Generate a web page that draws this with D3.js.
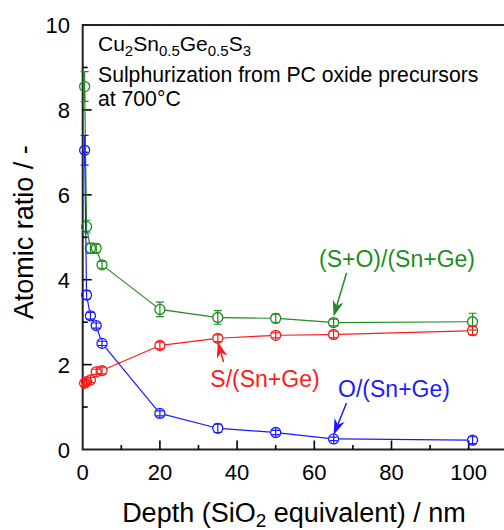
<!DOCTYPE html>
<html>
<head>
<meta charset="utf-8">
<script src="https://cdn.jsdelivr.net/npm/d3@7"></script>
<style>
  html, body { margin: 0; padding: 0; background: #fff; }
  svg { display: block; font-family: "Liberation Sans", Arial, sans-serif; }
</style>
</head>
<body>
<div id="chart"></div>
<script>
// depth profile data
const depth = [0.5, 1, 2, 3.5, 5, 20, 35, 50, 65, 101];
const ratioSO = [8.55, 5.25, 4.74, 4.74, 4.35, 3.30, 3.11, 3.09, 2.99, 3.01];
const errSO = [0.35, 0.15, 0.12, 0.10, 0.08, 0.17, 0.16, 0.10, 0.08, 0.20];
const ratioS = [1.56, 1.60, 1.64, 1.83, 1.86, 2.45, 2.62, 2.69, 2.71, 2.80];
const errS = [0.06, 0.06, 0.06, 0.06, 0.08, 0.08, 0.08, 0.06, 0.08, 0.10];
const ratioO = [7.05, 3.64, 3.15, 2.92, 2.50, 0.85, 0.50, 0.40, 0.25, 0.22];
const errO = [0.35, 0.10, 0.08, 0.06, 0.05, 0.06, 0.10, 0.05, 0.04, 0.08];

const xTicks = [0, 20, 40, 60, 80, 100];
const yTicks = [0, 2, 4, 6, 8, 10];

(() => {
    const W = 504, H = 530;
    const m = { left: 82.7, top: 25, bottom: 449.5 };
    const R = 5;

    const svg = d3.select("#chart").append("svg").attr("width", W).attr("height", H);

    const x = d3.scaleLinear().domain([0, 110]).range([m.left, m.left + 110 * 3.86]);
    const y = d3.scaleLinear().domain([0, 10]).range([m.bottom, m.top]);

    const series = [
        { name: "(S+O)/(Sn+Ge)", vals: ratioSO, err: errSO, color: "#1e8c1e" },
        { name: "S/(Sn+Ge)", vals: ratioS, err: errS, color: "#ff1a1a" },
        { name: "O/(Sn+Ge)", vals: ratioO, err: errO, color: "#1a1aff" }
    ];

    // frame (right side falls outside the picture)
    svg.append("path")
        .attr("d", `M${x(110)},${y(10)}H${x(0)}V${y(0)}H${x(110)}`)
        .attr("fill", "none").attr("stroke", "#222").attr("stroke-width", 2);

    // ticks, pointing inward
    const xMinor = d3.range(10, 110, 20);
    const yMinor = d3.range(1, 10, 2);
    const tickG = svg.append("g").attr("stroke", "#000").attr("stroke-width", 1.6);
    tickG.selectAll(".xt").data(xTicks.slice(1)).join("line")
        .attr("x1", d => x(d)).attr("x2", d => x(d)).attr("y1", y(0)).attr("y2", y(0) - 9);
    tickG.selectAll(".xm").data(xMinor).join("line")
        .attr("x1", d => x(d)).attr("x2", d => x(d)).attr("y1", y(0)).attr("y2", y(0) - 4.5);
    tickG.selectAll(".yt").data(yTicks.slice(1, -1)).join("line")
        .attr("x1", x(0)).attr("x2", x(0) + 9).attr("y1", d => y(d)).attr("y2", d => y(d));
    tickG.selectAll(".ym").data(yMinor).join("line")
        .attr("x1", x(0)).attr("x2", x(0) + 5).attr("y1", d => y(d)).attr("y2", d => y(d));

    svg.append("g").selectAll("text").data(xTicks).join("text")
        .attr("x", d => x(d)).attr("y", 480).attr("text-anchor", "middle")
        .attr("font-size", 22).text(d => d);
    svg.append("g").selectAll("text").data(yTicks).join("text")
        .attr("x", 70).attr("y", d => y(d) + 8).attr("text-anchor", "end")
        .attr("font-size", 22).text(d => d);

    // axis titles
    const xt = svg.append("text").attr("x", 294).attr("y", 521.5)
        .attr("text-anchor", "middle").attr("font-size", 27);
    xt.append("tspan").text("Depth (SiO");
    xt.append("tspan").attr("font-size", 19).attr("dy", 5).text("2");
    xt.append("tspan").attr("dy", -5).text(" equivalent) / nm");

    svg.append("text").attr("transform", `translate(33,${(y(0) + y(10)) / 2 - 5}) rotate(-90)`)
        .attr("text-anchor", "middle").attr("font-size", 27).text("Atomic ratio / -");

    // series: line segments stop at the hollow markers
    series.forEach(s => {
        const pts = depth.map((d, i) => ({ d, v: s.vals[i], e: s.err[i], px: x(d), py: y(s.vals[i]) }));
        const g = svg.append("g");
        const segs = d3.pairs(pts).filter(([a, b]) => Math.hypot(b.px - a.px, b.py - a.py) > 2 * R);
        g.selectAll("line").data(segs).join("line")
            .each(function ([a, b]) {
                const L = Math.hypot(b.px - a.px, b.py - a.py);
                const ux = (b.px - a.px) / L, uy = (b.py - a.py) / L;
                d3.select(this)
                    .attr("x1", a.px + ux * R).attr("y1", a.py + uy * R)
                    .attr("x2", b.px - ux * R).attr("y2", b.py - uy * R);
            })
            .attr("stroke", s.color).attr("stroke-width", 1.2);
        g.selectAll("circle").data(pts).join("circle")
            .attr("cx", d => d.px).attr("cy", d => d.py).attr("r", R)
            .attr("fill", "none").attr("stroke", s.color).attr("stroke-width", 1.3);
        g.selectAll(".eb").data(pts).join("path")
            .attr("d", d => {
                const cx = d.px, y1 = y(d.v + d.e), y2 = y(d.v - d.e);
                const top = Math.min(y1, d.py - R), bot = Math.max(y2, d.py + R);
                return `M${cx},${top}V${bot}M${cx - 4},${y1}H${cx + 4}M${cx - 4},${y2}H${cx + 4}`;
            })
            .attr("fill", "none").attr("stroke", s.color).attr("stroke-width", 1.2);
    });

    // sample description
    const t1 = svg.append("text").attr("x", 98).attr("y", 51).attr("font-size", 21);
    [["Cu", 0], ["2", 1], ["Sn", 0], ["0.5", 1], ["Ge", 0], ["0.5", 1], ["S", 0], ["3", 1]]
        .forEach(([s, sub], i, arr) => {
            const prevSub = i > 0 ? arr[i - 1][1] : 0;
            t1.append("tspan").attr("font-size", sub ? 15 : 21)
                .attr("dy", (sub - prevSub) * 5).text(s);
        });
    svg.append("text").attr("x", 98).attr("y", 82).attr("font-size", 21.2)
        .text("Sulphurization from PC oxide precursors");
    svg.append("text").attr("x", 98).attr("y", 106).attr("font-size", 21.2)
        .text("at 700°C");

    // labels with arrows
    const notes = [
        { s: 0, text: "(S+O)/(Sn+Ge)", tx: 397, ty: 266.5, from: [346.5, 273], at: 65, off: -6 },
        { s: 1, text: "S/(Sn+Ge)", tx: 265, ty: 386.5, from: [223.5, 362], at: 35, off: 3.5 },
        { s: 2, text: "O/(Sn+Ge)", tx: 394, ty: 396.5, from: [346.5, 403], at: 65, off: -4 }
    ];
    notes.forEach(n => {
        const s = series[n.s];
        const i = depth.indexOf(n.at);
        const tip = [x(n.at), y(s.vals[i]) + n.off];
        svg.append("text").attr("x", n.tx).attr("y", n.ty).attr("text-anchor", "middle")
            .attr("font-size", 23).attr("fill", s.color).text(n.text);
        const dx = tip[0] - n.from[0], dy = tip[1] - n.from[1];
        const len = Math.hypot(dx, dy), ux = dx / len, uy = dy / len;
        const hl = Math.min(16, len * 0.8), hw = 5.5;
        const bx = tip[0] - ux * hl, by = tip[1] - uy * hl;
        const nx = tip[0] - ux * hl * 0.7, ny = tip[1] - uy * hl * 0.7;
        svg.append("line").attr("x1", n.from[0]).attr("y1", n.from[1]).attr("x2", nx).attr("y2", ny)
            .attr("stroke", s.color).attr("stroke-width", 1.5);
        svg.append("path")
            .attr("d", `M${tip[0]},${tip[1]}L${bx - uy * hw},${by + ux * hw}L${nx},${ny}L${bx + uy * hw},${by - ux * hw}Z`)
            .attr("fill", s.color);
    });
})();
</script>
</body>
</html>
